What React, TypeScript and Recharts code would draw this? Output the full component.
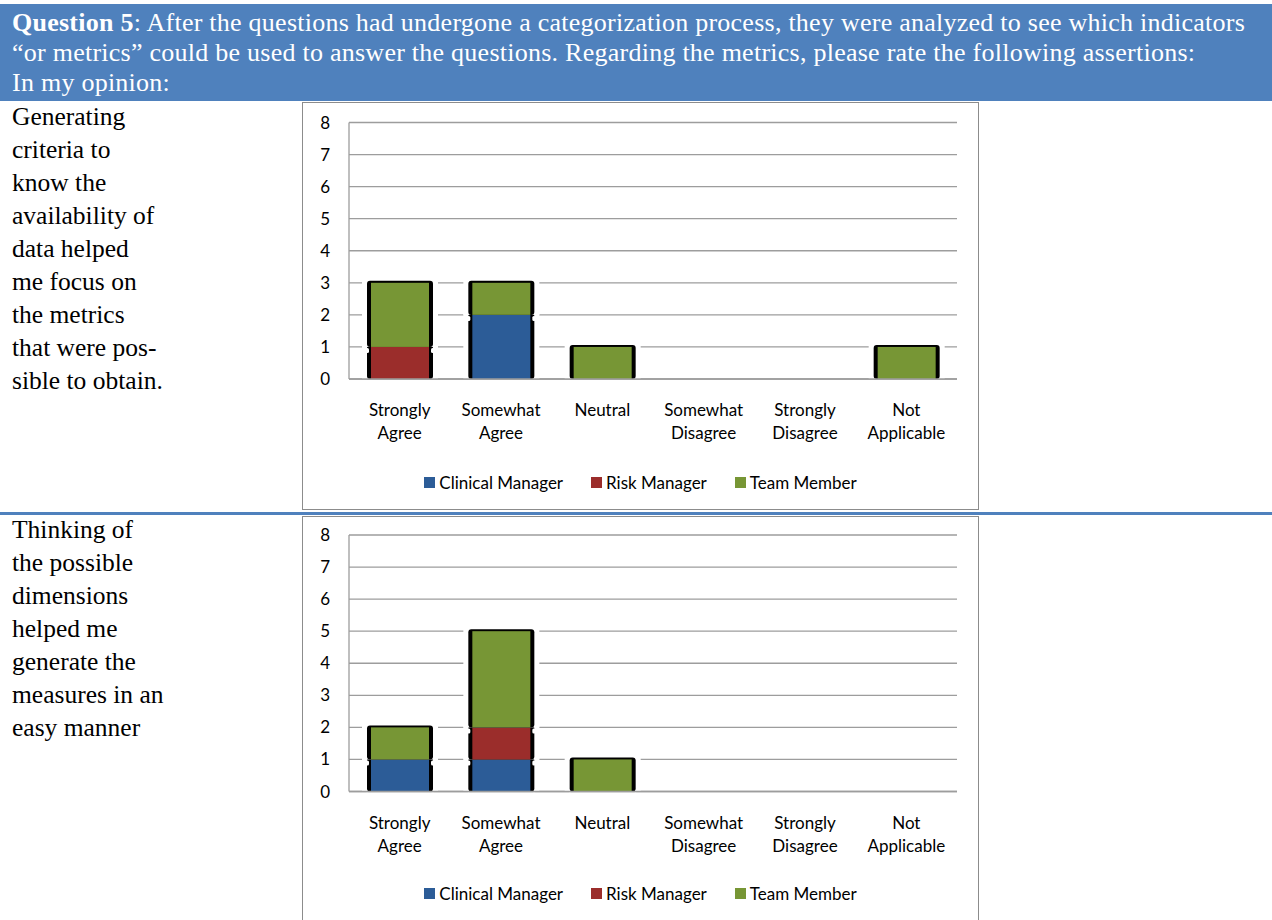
import React from 'react'
import { BarChart, Bar, XAxis, YAxis, CartesianGrid, Legend } from 'recharts'

// answer scale shared by both assertions
const responses = [
  'Strongly Agree',
  'Somewhat Agree',
  'Neutral',
  'Somewhat Disagree',
  'Strongly Disagree',
  'Not Applicable',
]
const yTicks = [0, 1, 2, 3, 4, 5, 6, 7, 8]

// "Generating criteria to know the availability of data..."
const focusClinical = [0, 2, 0, 0, 0, 0]
const focusRisk = [1, 0, 0, 0, 0, 0]
const focusTeam = [2, 1, 1, 0, 0, 1]

// "Thinking of the possible dimensions..."
const dimClinical = [1, 1, 0, 0, 0, 0]
const dimRisk = [0, 1, 0, 0, 0, 0]
const dimTeam = [1, 3, 1, 0, 0, 0]

const roles = [
  { key: 'clinical', name: 'Clinical Manager', color: '#2C5C97' },
  { key: 'risk', name: 'Risk Manager', color: '#9B2D2B' },
  { key: 'team', name: 'Team Member', color: '#779635' },
]

const focusLines = [
  'Generating',
  'criteria to',
  'know the',
  'availability of',
  'data helped',
  'me focus on',
  'the metrics',
  'that were pos-',
  'sible to obtain.',
]
const dimLines = [
  'Thinking of',
  'the possible',
  'dimensions',
  'helped me',
  'generate the',
  'measures in an',
  'easy manner',
]

const HEADER_BLUE = '#4F81BD'
const CHART_FONT = 'Lato, "Open Sans", sans-serif'
const SERIF = '"Liberation Serif", "Times New Roman", serif'

// stacked segment with a black rim and a white halo that breaks the gridlines;
// the small white nicks below each segment mark the joint with the one underneath
function RimmedSegment(props: any) {
  const { x, y, width, height, fill } = props
  if (!height || height <= 0) return null
  const bottom = y + height
  return (
    <g>
      <rect x={x - 9} y={y - 3} width={width + 18} height={height + 3} fill="#fff" />
      <rect x={x - 4} y={y - 2} width={width + 8} height={height + 2} rx={3} fill="#000" />
      <rect x={x} y={y} width={width} height={height} fill={fill} />
      <rect x={x - 5.5} y={bottom + 1} width={3.5} height={5} rx={1.5} fill="#fff" />
      <rect x={x + width + 2} y={bottom + 1} width={3.5} height={5} rx={1.5} fill="#fff" />
    </g>
  )
}

function CategoryTick(props: any) {
  const { x, y, payload } = props
  const words = String(payload.value).split(' ')
  return (
    <text x={x} y={y} textAnchor="middle" fill="#000" fontSize={17} fontFamily={CHART_FONT}>
      {words.map((w, i) => (
        <tspan key={i} x={x} dy={i === 0 ? 29 : 23}>
          {w}
        </tspan>
      ))}
    </text>
  )
}

function RoleLegend() {
  return (
    <div
      style={{
        display: 'flex',
        justifyContent: 'center',
        gap: 28,
        fontFamily: CHART_FONT,
        fontSize: 17,
        color: '#000',
      }}
    >
      {roles.map((r) => (
        <span key={r.key} style={{ display: 'flex', alignItems: 'center' }}>
          <span
            style={{ width: 11, height: 11, background: r.color, marginRight: 4, display: 'inline-block' }}
          />
          {r.name}
        </span>
      ))}
    </div>
  )
}

function ResponseChart({
  clinical,
  risk,
  team,
  top,
  legendTop,
}: {
  clinical: number[]
  risk: number[]
  team: number[]
  top: number
  legendTop: number
}) {
  const data = responses.map((label, i) => ({
    label,
    clinical: clinical[i],
    risk: risk[i],
    team: team[i],
  }))
  return (
    <BarChart
      width={675}
      height={406}
      data={data}
      margin={{ top, right: 21, left: 0, bottom: 0 }}
      barSize={58}
    >
      <CartesianGrid vertical={false} stroke="#9d9d9d" strokeWidth={1.3} />
      {roles.map((r) => (
        <Bar
          key={r.key}
          dataKey={r.key}
          name={r.name}
          stackId="roles"
          fill={r.color}
          shape={<RimmedSegment />}
          isAnimationActive={false}
        />
      ))}
      <XAxis
        dataKey="label"
        height={406 - top - 256.5}
        tick={<CategoryTick />}
        tickLine={false}
        axisLine={{ stroke: '#9d9d9d', strokeWidth: 1.3 }}
        interval={0}
      />
      <YAxis
        width={46}
        domain={[0, 8]}
        ticks={yTicks}
        tickLine={false}
        tickSize={6}
        tickMargin={13}
        axisLine={{ stroke: '#9d9d9d', strokeWidth: 1.3 }}
        tick={{ fill: '#000', fontSize: 17, fontFamily: CHART_FONT }}
      />
      <Legend
        layout="horizontal"
        verticalAlign="middle"
        align="center"
        content={<RoleLegend />}
        wrapperStyle={{ top: legendTop, left: 0, width: 675 }}
      />
    </BarChart>
  )
}

function Assertion({ lines, top }: { lines: string[]; top: number }) {
  return (
    <div
      style={{
        position: 'absolute',
        left: 12,
        top,
        fontFamily: SERIF,
        fontSize: 25.5,
        lineHeight: '33px',
        color: '#000',
        whiteSpace: 'nowrap',
      }}
    >
      {lines.map((l, i) => (
        <div key={i}>{l}</div>
      ))}
    </div>
  )
}

function ChartBox({ top, children }: { top: number; children: React.ReactNode }) {
  return (
    <div
      style={{
        position: 'absolute',
        left: 302,
        top,
        width: 675,
        height: 406,
        border: '1px solid #8c8c8c',
        background: '#fff',
      }}
    >
      {children}
    </div>
  )
}

export default function App() {
  return (
    <div
      style={{
        position: 'absolute',
        left: 0,
        top: 0,
        width: 1272,
        height: 920,
        background: '#fff',
        overflow: 'hidden',
      }}
    >
      <div
        style={{
          position: 'absolute',
          left: 0,
          top: 4,
          width: 1272,
          height: 97,
          background: HEADER_BLUE,
          color: '#fff',
          fontFamily: SERIF,
          fontSize: 26,
          letterSpacing: 0.25,
          lineHeight: '30px',
          paddingLeft: 12,
          paddingTop: 4,
          boxSizing: 'border-box',
          whiteSpace: 'nowrap',
        }}
      >
        <div>
          <b>Question 5</b>: After the questions had undergone a categorization process, they were
          analyzed to see which indicators
        </div>
        <div>
          “or metrics” could be used to answer the questions. Regarding the metrics, please rate the
          following assertions:
        </div>
        <div>In my opinion:</div>
      </div>

      <Assertion lines={focusLines} top={100} />
      <ChartBox top={102}>
        <ResponseChart
          clinical={focusClinical}
          risk={focusRisk}
          team={focusTeam}
          top={19.5}
          legendTop={369}
        />
      </ChartBox>

      <div
        style={{ position: 'absolute', left: 0, top: 512, width: 1272, height: 3, background: HEADER_BLUE }}
      />

      <Assertion lines={dimLines} top={513} />
      <ChartBox top={516}>
        <ResponseChart
          clinical={dimClinical}
          risk={dimRisk}
          team={dimTeam}
          top={18}
          legendTop={366}
        />
      </ChartBox>
    </div>
  )
}
